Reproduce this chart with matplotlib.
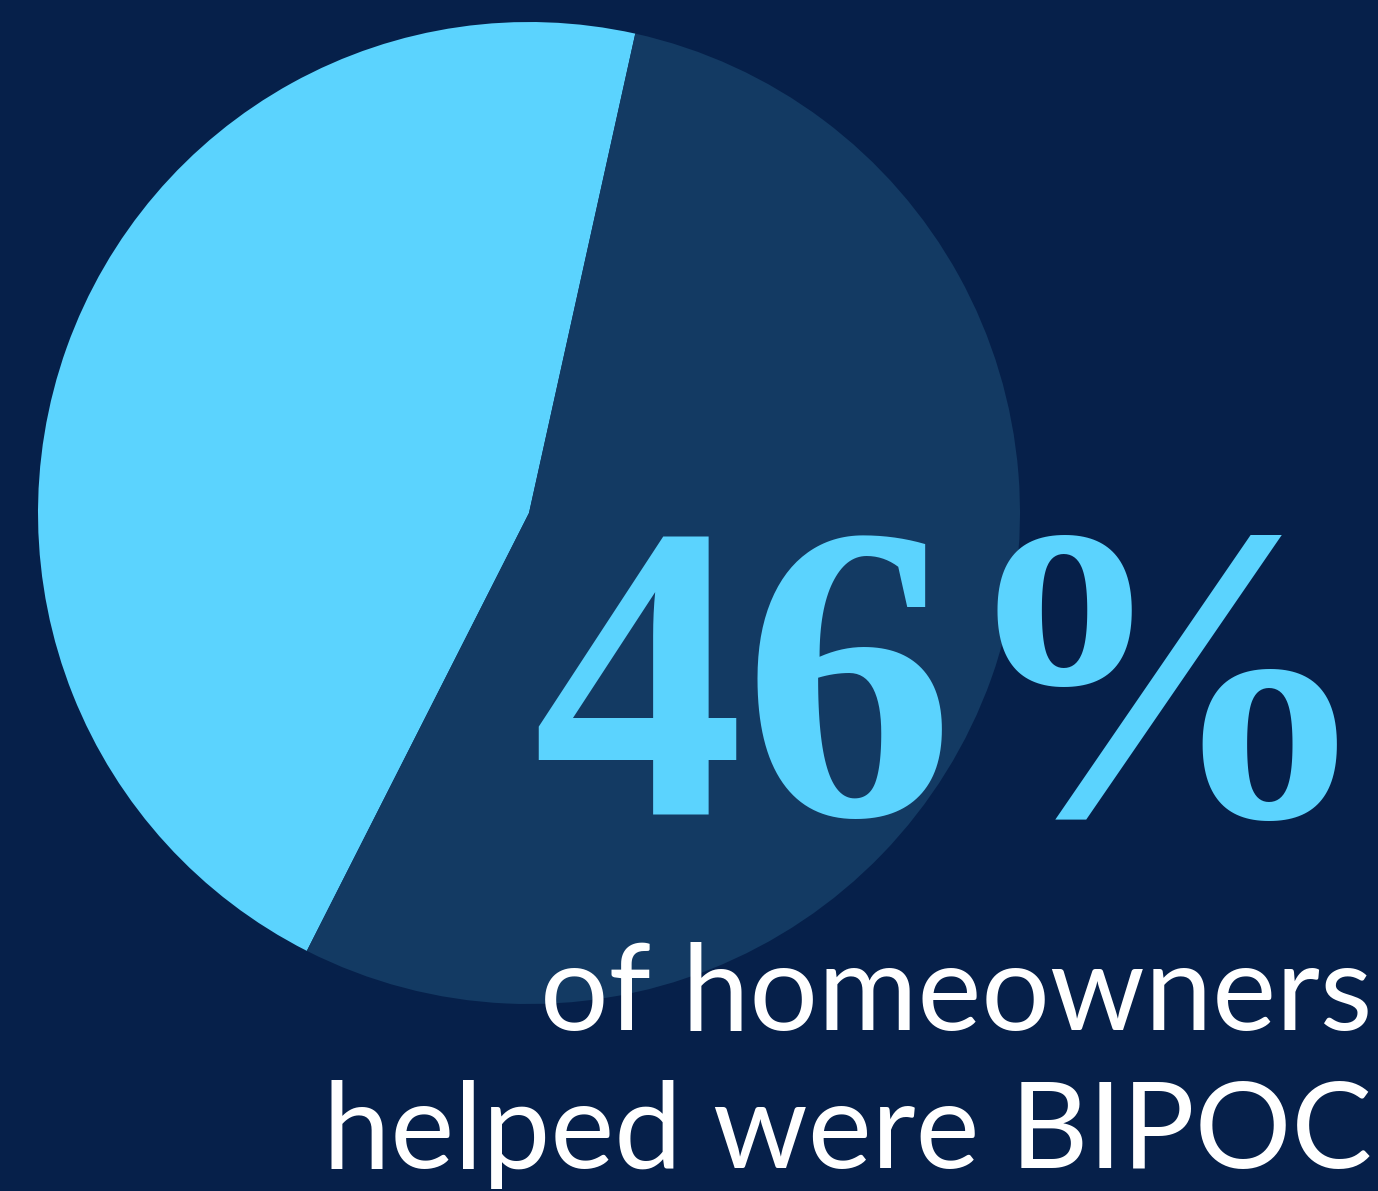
import matplotlib.pyplot as plt

# share of homeowners helped who were BIPOC
labels = ["BIPOC", "Other"]
shares = [46, 54]
colors = ["#5bd3fe", "#133a63"]
big_label = "46%"
caption = ["of homeowners", "helped were BIPOC"]

bg = "#06204a"
W, H = 1378, 1191

fig = plt.figure(figsize=(W / 100, H / 100), dpi=100, facecolor=bg)
ax = fig.add_axes([0, 0, 1, 1])
ax.set_facecolor(bg)

ax.pie(shares, colors=colors, startangle=-77.5, counterclock=False,
       center=(529, 513), radius=491, frame=True,
       wedgeprops=dict(linewidth=0))
ax.set_xlim(0, W)
ax.set_ylim(H, 0)
ax.set_aspect("equal")
ax.axis("off")

ax.text(1377, 815, big_label, color="#5bd3fe", fontsize=304,
        family="Liberation Serif", weight="bold", ha="right", va="baseline")

ax.text(1372, 1030, caption[0], color="white", fontsize=87,
        family="Lato", ha="right", va="baseline")
ax.text(1372, 1168, caption[1], color="white", fontsize=87,
        family="Lato", ha="right", va="baseline")

fig.savefig("out.png", dpi=100, facecolor=bg)
